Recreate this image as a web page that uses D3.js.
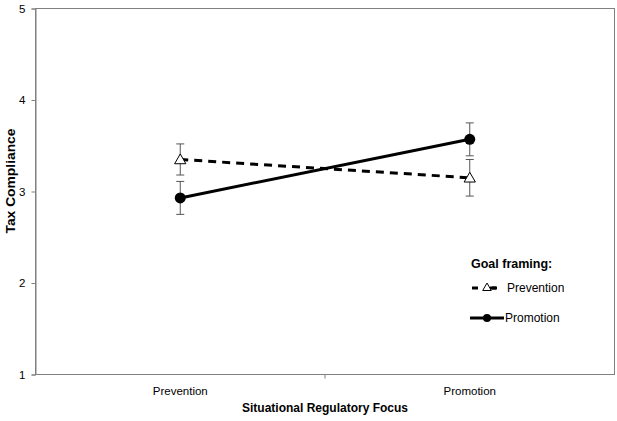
<!DOCTYPE html>
<html><head><meta charset="utf-8">
<script src="https://cdn.jsdelivr.net/npm/d3@7"></script>
<style>body{margin:0;background:#fff}svg{display:block}text{font-family:"Liberation Sans",Arial,sans-serif}</style>
</head><body><svg id="c" width="617" height="421"></svg>
<script>
const categories = ["Prevention", "Promotion"];
const seriesNames = ["Prevention", "Promotion"];
const preventionVals = [3.35, 3.15];
const preventionErr = [0.17, 0.2];
const promotionVals = [2.93, 3.57];
const promotionErr = [0.18, 0.18];
const yTicks = [1, 2, 3, 4, 5];

const svg = d3.select("#c");
const L = 35.5, R = 614.5, T = 8.5, B = 374.5;
const x = d3.scaleBand().domain(categories).range([L, R]);
const y = d3.scaleLinear().domain([1, 5]).range([B, T]);
const cx = d => x(d) + x.bandwidth() / 2;
const axisCol = "#808080";

// frame
svg.append("rect").attr("x", L).attr("y", T).attr("width", R - L).attr("height", B - T)
  .attr("fill", "none").attr("stroke", axisCol).attr("stroke-width", 1);

// y axis
const ya = svg.append("g").attr("transform", `translate(${L},0)`)
  .call(d3.axisLeft(y).tickValues(yTicks).tickSize(4).tickPadding(6).tickFormat(d3.format("d")));
ya.select(".domain").attr("stroke", axisCol);
ya.selectAll(".tick line").attr("stroke", axisCol);
ya.selectAll("text").attr("font-size", 11.5).attr("fill", "#000");

// x axis: category boundary tick
const xa = svg.append("g").attr("transform", `translate(0,${B})`);
xa.append("line").attr("x1", x("Promotion")).attr("x2", x("Promotion")).attr("y1", 0).attr("y2", 4).attr("stroke", axisCol);
xa.selectAll("text.cat").data(categories).enter().append("text")
  .attr("x", d => cx(d)).attr("y", 20).attr("text-anchor", "middle").attr("font-size", 11.5).text(d => d);

// axis titles
svg.append("text").attr("x", (L + R) / 2).attr("y", 412).attr("text-anchor", "middle")
  .attr("font-size", 12).attr("font-weight", "bold").text("Situational Regulatory Focus");
svg.append("text").attr("transform", `translate(15,181) rotate(-90)`).attr("text-anchor", "middle")
  .attr("font-size", 12).attr("font-weight", "bold")
  .attr("textLength", 105).attr("lengthAdjust", "spacingAndGlyphs").text("Tax Compliance");

const line = d3.line().x((d, i) => cx(categories[i])).y(d => y(d));

// error bars
function errBars(vals, errs) {
  const g = svg.append("g");
  vals.forEach((v, i) => {
    const X = cx(categories[i]);
    g.append("line").attr("x1", X).attr("x2", X).attr("y1", y(v + errs[i])).attr("y2", y(v - errs[i])).attr("stroke", "#555").attr("stroke-width", 1);
    [v + errs[i], v - errs[i]].forEach(e => g.append("line").attr("x1", X - 4).attr("x2", X + 4).attr("y1", y(e)).attr("y2", y(e)).attr("stroke", "#555").attr("stroke-width", 1));
  });
}
errBars(preventionVals, preventionErr);
errBars(promotionVals, promotionErr);

// lines
svg.append("path").datum(preventionVals).attr("d", line).attr("fill", "none").attr("stroke", "#000")
  .attr("stroke-width", 3).attr("stroke-dasharray", "8,6");
svg.append("path").datum(promotionVals).attr("d", line).attr("fill", "none").attr("stroke", "#000").attr("stroke-width", 3);

const tri = d3.symbol().type(d3.symbolTriangle).size(55);
preventionVals.forEach((v, i) => {
  svg.append("path").attr("d", tri).attr("transform", `translate(${cx(categories[i])},${y(v) + 1})`)
    .attr("fill", "#fff").attr("stroke", "#000").attr("stroke-width", 1);
});
promotionVals.forEach((v, i) => {
  svg.append("circle").attr("cx", cx(categories[i])).attr("cy", y(v)).attr("r", 5.5).attr("fill", "#000");
});

// legend
const lg = svg.append("g");
lg.append("text").attr("x", 471).attr("y", 268).attr("font-size", 12.5).attr("font-weight", "bold").text("Goal framing:");
lg.append("line").attr("x1", 472).attr("x2", 497).attr("y1", 288).attr("y2", 288).attr("stroke", "#000")
  .attr("stroke-width", 3).attr("stroke-dasharray", "6,14");
lg.append("path").attr("d", d3.symbol().type(d3.symbolTriangle).size(32)).attr("transform", "translate(487,288)")
  .attr("fill", "#fff").attr("stroke", "#000").attr("stroke-width", 1);
lg.append("line").attr("x1", 490).attr("x2", 496).attr("y1", 288).attr("y2", 288).attr("stroke", "#000").attr("stroke-width", 3);
lg.append("text").attr("x", 507).attr("y", 292).attr("font-size", 12).text(seriesNames[0]);
lg.append("line").attr("x1", 470).attr("x2", 504).attr("y1", 318).attr("y2", 318).attr("stroke", "#000").attr("stroke-width", 3);
lg.append("circle").attr("cx", 487).attr("cy", 318).attr("r", 4).attr("fill", "#000");
lg.append("text").attr("x", 505).attr("y", 322).attr("font-size", 12).text(seriesNames[1]);
</script></body></html>
